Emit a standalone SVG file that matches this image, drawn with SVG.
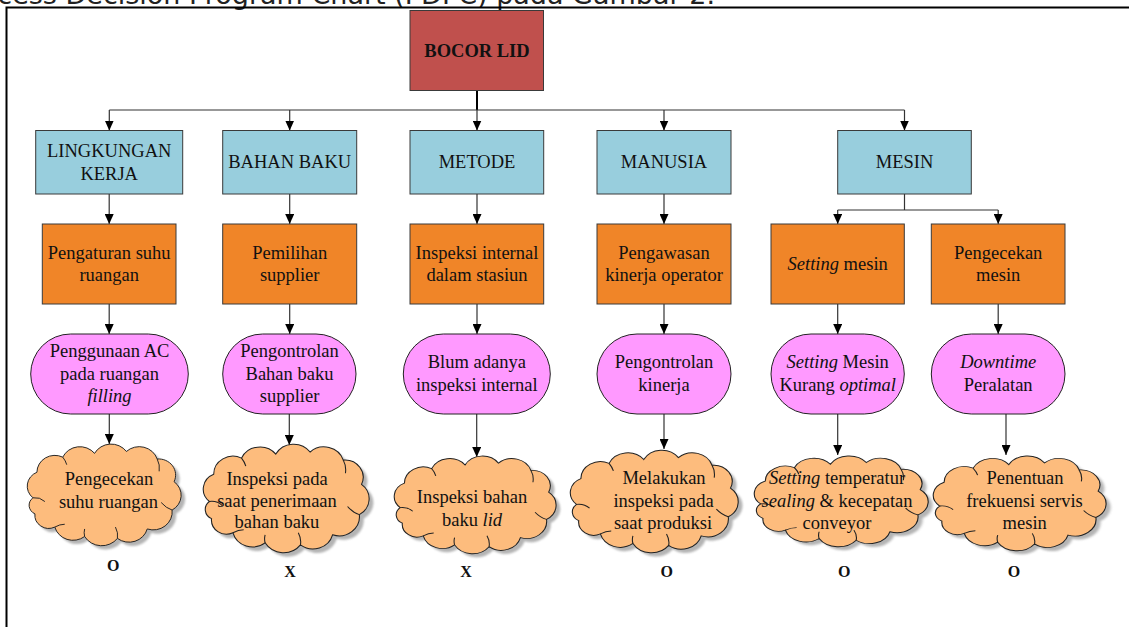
<svg xmlns="http://www.w3.org/2000/svg" xmlns:xlink="http://www.w3.org/1999/xlink" width="1129" height="627" viewBox="0 0 1129 627">
<style>
.t{font-family:"Liberation Serif","Times New Roman",serif;font-size:18.5px;fill:#111;text-anchor:middle}
.b{font-weight:bold}
.i{font-style:italic}
.top{fill:#C0504D;stroke:#3a3a3a;stroke-width:1}
.l1{fill:#98CEDD;stroke:#3a3a3a;stroke-width:1}
.l2{fill:#F08528;stroke:#3a3a3a;stroke-width:1}
.l3{fill:#FF99FF;stroke:#222;stroke-width:1}
.cloud{fill:#FDBC7D;stroke:#222;stroke-width:1}
.cshadow{fill:#777;opacity:0.55}
.cinner{fill:none;stroke:#222;stroke-width:1}
.conn path{fill:none;stroke:#333;stroke-width:1.2}
.cap{font-family:"DejaVu Sans",Verdana,sans-serif;font-size:27px;fill:#222}
</style>
<defs>
<marker id="ah" viewBox="0 0 10 9" refX="10" refY="4.5" markerWidth="10" markerHeight="9" markerUnits="userSpaceOnUse" orient="auto"><path d="M0,0 L10,4.5 L0,9 z" fill="#000"/></marker>
<path id="cloudOutline" d="M10,55 A16,16 0 0 1 14,28 A18,18 0 0 1 40,12 A19,19 0 0 1 72,8 A19,19 0 0 1 104,6 A19,19 0 0 1 135,14 A17,17 0 0 1 152,38 A18,18 0 0 1 150,68 A19,19 0 0 1 125,88 A19,19 0 0 1 95,98 A20,20 0 0 1 62,96 A19,19 0 0 1 32,86 A14,14 0 0 1 12,72 A10,10 0 0 1 10,55 Z"/>
<path id="cloudInner" d="M10,55 Q17,54 22,59 M135,14 Q138,20 137,27 M150,68 Q144,66 139,60 M95,98 Q96,92 93,86 M62,96 Q61,92 62,88 M32,86 Q37,83 42,83 M40,12 Q43,16 44,20"/>
<filter id="blur" x="-10%" y="-10%" width="120%" height="120%"><feGaussianBlur stdDeviation="1.2"/></filter>
</defs>
<rect x="0" y="0" width="1129" height="627" fill="#fff"/>
<text class="cap" x="715" y="4" text-anchor="end">Process Decision Program Chart (PDPC) pada Gambar 2.</text>
<path d="M6.5,627 V7.5 H1129" fill="none" stroke="#000" stroke-width="2"/>

<g class="conn">
<path d="M477,90.5 V110" style="stroke:#000;stroke-width:2"/>
<path d="M109.3,110 H904.5"/>
<path d="M109.3,110 V130.5" marker-end="url(#ah)"/>
<path d="M289.7,110 V130.5" marker-end="url(#ah)"/>
<path d="M477,110 V130.5" marker-end="url(#ah)"/>
<path d="M664,110 V130.5" marker-end="url(#ah)"/>
<path d="M904.5,110 V130.5" marker-end="url(#ah)"/>
<path d="M109.2,194 V224" marker-end="url(#ah)"/>
<path d="M289.7,194 V224" marker-end="url(#ah)"/>
<path d="M477,194 V224" marker-end="url(#ah)"/>
<path d="M664,194 V224" marker-end="url(#ah)"/>
<path d="M904.5,194 V210 M837.7,210 H998.2"/>
<path d="M837.7,210 V224" marker-end="url(#ah)"/>
<path d="M998.2,210 V224" marker-end="url(#ah)"/>
<path d="M109.2,304 V334" marker-end="url(#ah)"/>
<path d="M289.7,304 V334" marker-end="url(#ah)"/>
<path d="M477,304 V334" marker-end="url(#ah)"/>
<path d="M664,304 V334" marker-end="url(#ah)"/>
<path d="M837.7,304 V334" marker-end="url(#ah)"/>
<path d="M998.2,304 V334" marker-end="url(#ah)"/>
<path d="M109.3,414 V444" marker-end="url(#ah)"/>
<path d="M289.3,414 V445" marker-end="url(#ah)"/>
<path d="M476.7,414 V457" marker-end="url(#ah)"/>
<path d="M664,414 V449" marker-end="url(#ah)"/>
<path d="M837.7,414 V455" marker-end="url(#ah)"/>
<path d="M1006,414 V455" marker-end="url(#ah)"/>
</g>

<g id="n-bocor"><rect class="top" x="410" y="10.5" width="133.5" height="80"/><text class="t b" x="477" y="56.5">BOCOR LID</text></g>

<g id="n-lingkungan"><rect class="l1" x="35.7" y="130.5" width="147" height="63.5"/><text class="t" x="109.2" y="156.7">LINGKUNGAN</text><text class="t" x="109.2" y="180">KERJA</text></g>
<g id="n-bahan"><rect class="l1" x="222.7" y="130.5" width="134" height="63.5"/><text class="t" x="289.7" y="168.3">BAHAN BAKU</text></g>
<g id="n-metode"><rect class="l1" x="410" y="130.5" width="133.7" height="63.5"/><text class="t" x="477" y="168.3">METODE</text></g>
<g id="n-manusia"><rect class="l1" x="597" y="130.5" width="134" height="63.5"/><text class="t" x="664" y="168.3">MANUSIA</text></g>
<g id="n-mesin"><rect class="l1" x="837.7" y="130.5" width="133.6" height="63.5"/><text class="t" x="904.5" y="168.3">MESIN</text></g>

<g id="n-pengaturan"><rect class="l2" x="42.3" y="224" width="133.7" height="80"/><text class="t" x="109.2" y="259.3">Pengaturan suhu</text><text class="t" x="109.2" y="280.7">ruangan</text></g>
<g id="n-pemilihan"><rect class="l2" x="222.7" y="224" width="134" height="80"/><text class="t" x="289.7" y="259.3">Pemilihan</text><text class="t" x="289.7" y="280.7">supplier</text></g>
<g id="n-inspeksi"><rect class="l2" x="410" y="224" width="133.7" height="80"/><text class="t" x="477" y="259.3">Inspeksi internal</text><text class="t" x="477" y="280.7">dalam stasiun</text></g>
<g id="n-pengawasan"><rect class="l2" x="597" y="224" width="134" height="80"/><text class="t" x="664" y="259.3">Pengawasan</text><text class="t" x="664" y="280.7">kinerja operator</text></g>
<g id="n-setting"><rect class="l2" x="771" y="224" width="133.3" height="80"/><text class="t" x="837.7" y="270"><tspan class="i">Setting</tspan> mesin</text></g>
<g id="n-pengecekan"><rect class="l2" x="931.3" y="224" width="133.7" height="80"/><text class="t" x="998.2" y="259.3">Pengecekan</text><text class="t" x="998.2" y="280.7">mesin</text></g>

<g id="n-ac"><rect class="l3" x="30.7" y="334" width="157.6" height="80" rx="40" ry="40"/><text class="t" x="109.5" y="356.7">Penggunaan AC</text><text class="t" x="109.5" y="380">pada ruangan</text><text class="t i" x="109.5" y="401.7">filling</text></g>
<g id="n-kontrolbahan"><rect class="l3" x="222.7" y="334" width="133.3" height="80" rx="40" ry="40"/><text class="t" x="289.5" y="356.7">Pengontrolan</text><text class="t" x="289.5" y="380">Bahan baku</text><text class="t" x="289.5" y="401.7">supplier</text></g>
<g id="n-blum"><rect class="l3" x="403.3" y="334" width="147" height="80" rx="40" ry="40"/><text class="t" x="476.8" y="368.3">Blum adanya</text><text class="t" x="476.8" y="390.7">inspeksi internal</text></g>
<g id="n-kontrolkinerja"><rect class="l3" x="597" y="334" width="134" height="80" rx="40" ry="40"/><text class="t" x="664" y="368.3">Pengontrolan</text><text class="t" x="664" y="390.7">kinerja</text></g>
<g id="n-settingkurang"><rect class="l3" x="771" y="334" width="133.3" height="80" rx="40" ry="40"/><text class="t" x="837.7" y="368.3"><tspan class="i">Setting</tspan> Mesin</text><text class="t" x="837.7" y="390.7">Kurang <tspan class="i">optimal</tspan></text></g>
<g id="n-downtime"><rect class="l3" x="931.3" y="334" width="133.7" height="80" rx="40" ry="40"/><text class="t i" x="998.2" y="368.3">Downtime</text><text class="t" x="998.2" y="390.7">Peralatan</text></g>

<g id="n-c1">
<g transform="translate(23,445.8) scale(0.994,0.945)"><use xlink:href="#cloudOutline" class="cshadow" transform="translate(4,4)" filter="url(#blur)"/><use xlink:href="#cloudOutline" class="cloud"/><use xlink:href="#cloudInner" class="cinner"/></g>
<text class="t" x="109" y="485">Pengecekan</text><text class="t" x="108.5" y="507.7">suhu ruangan</text>
</g>
<g id="n-c2">
<g transform="translate(198.7,446) scale(1.071,1.009)"><use xlink:href="#cloudOutline" class="cshadow" transform="translate(4,4)" filter="url(#blur)"/><use xlink:href="#cloudOutline" class="cloud"/><use xlink:href="#cloudInner" class="cinner"/></g>
<text class="t" x="277" y="485">Inspeksi pada</text><text class="t" x="277" y="506.7">saat penerimaan</text><text class="t" x="277" y="528.3">bahan baku</text>
</g>
<g id="n-c3">
<g transform="translate(389.8,457.7) scale(1.045,0.908)"><use xlink:href="#cloudOutline" class="cshadow" transform="translate(4,4)" filter="url(#blur)"/><use xlink:href="#cloudOutline" class="cloud"/><use xlink:href="#cloudInner" class="cinner"/></g>
<text class="t" x="472" y="503.3">Inspeksi bahan</text><text class="t" x="472" y="526">baku <tspan class="i">lid</tspan></text>
</g>
<g id="n-c4">
<g transform="translate(565.7,451.9) scale(1.084,0.954)"><use xlink:href="#cloudOutline" class="cshadow" transform="translate(4,4)" filter="url(#blur)"/><use xlink:href="#cloudOutline" class="cloud"/><use xlink:href="#cloudInner" class="cinner"/></g>
<text class="t" x="664" y="484.3">Melakukan</text><text class="t" x="663.5" y="506.7">inspeksi pada</text><text class="t" x="663" y="529.3">saat produksi</text>
</g>
<g id="n-c5">
<g transform="translate(749.5,457.5) scale(1.123,0.844)"><use xlink:href="#cloudOutline" class="cshadow" transform="translate(4,4)" filter="url(#blur)"/><use xlink:href="#cloudOutline" class="cloud"/><use xlink:href="#cloudInner" class="cinner"/></g>
<text class="t" x="837" y="484.3"><tspan class="i">Setting</tspan> temperatur</text><text class="t" x="837" y="506.7"><tspan class="i">sealing</tspan> &amp; kecepatan</text><text class="t" x="837" y="529.3">conveyor</text>
</g>
<g id="n-c6">
<g transform="translate(928.5,457.6) scale(1.116,0.881)"><use xlink:href="#cloudOutline" class="cshadow" transform="translate(4,4)" filter="url(#blur)"/><use xlink:href="#cloudOutline" class="cloud"/><use xlink:href="#cloudInner" class="cinner"/></g>
<text class="t" x="1025" y="484.3">Penentuan</text><text class="t" x="1024.5" y="506.7">frekuensi servis</text><text class="t" x="1024.7" y="529.3">mesin</text>
</g>

<g id="marks">
<text class="t b" style="font-size:16px" x="113.3" y="570.7">O</text>
<text class="t b" style="font-size:16px" x="290" y="576.7">X</text>
<text class="t b" style="font-size:16px" x="466" y="576.7">X</text>
<text class="t b" style="font-size:16px" x="666.7" y="576.7">O</text>
<text class="t b" style="font-size:16px" x="844.3" y="576.7">O</text>
<text class="t b" style="font-size:16px" x="1014" y="576.7">O</text>
</g>
</svg>
